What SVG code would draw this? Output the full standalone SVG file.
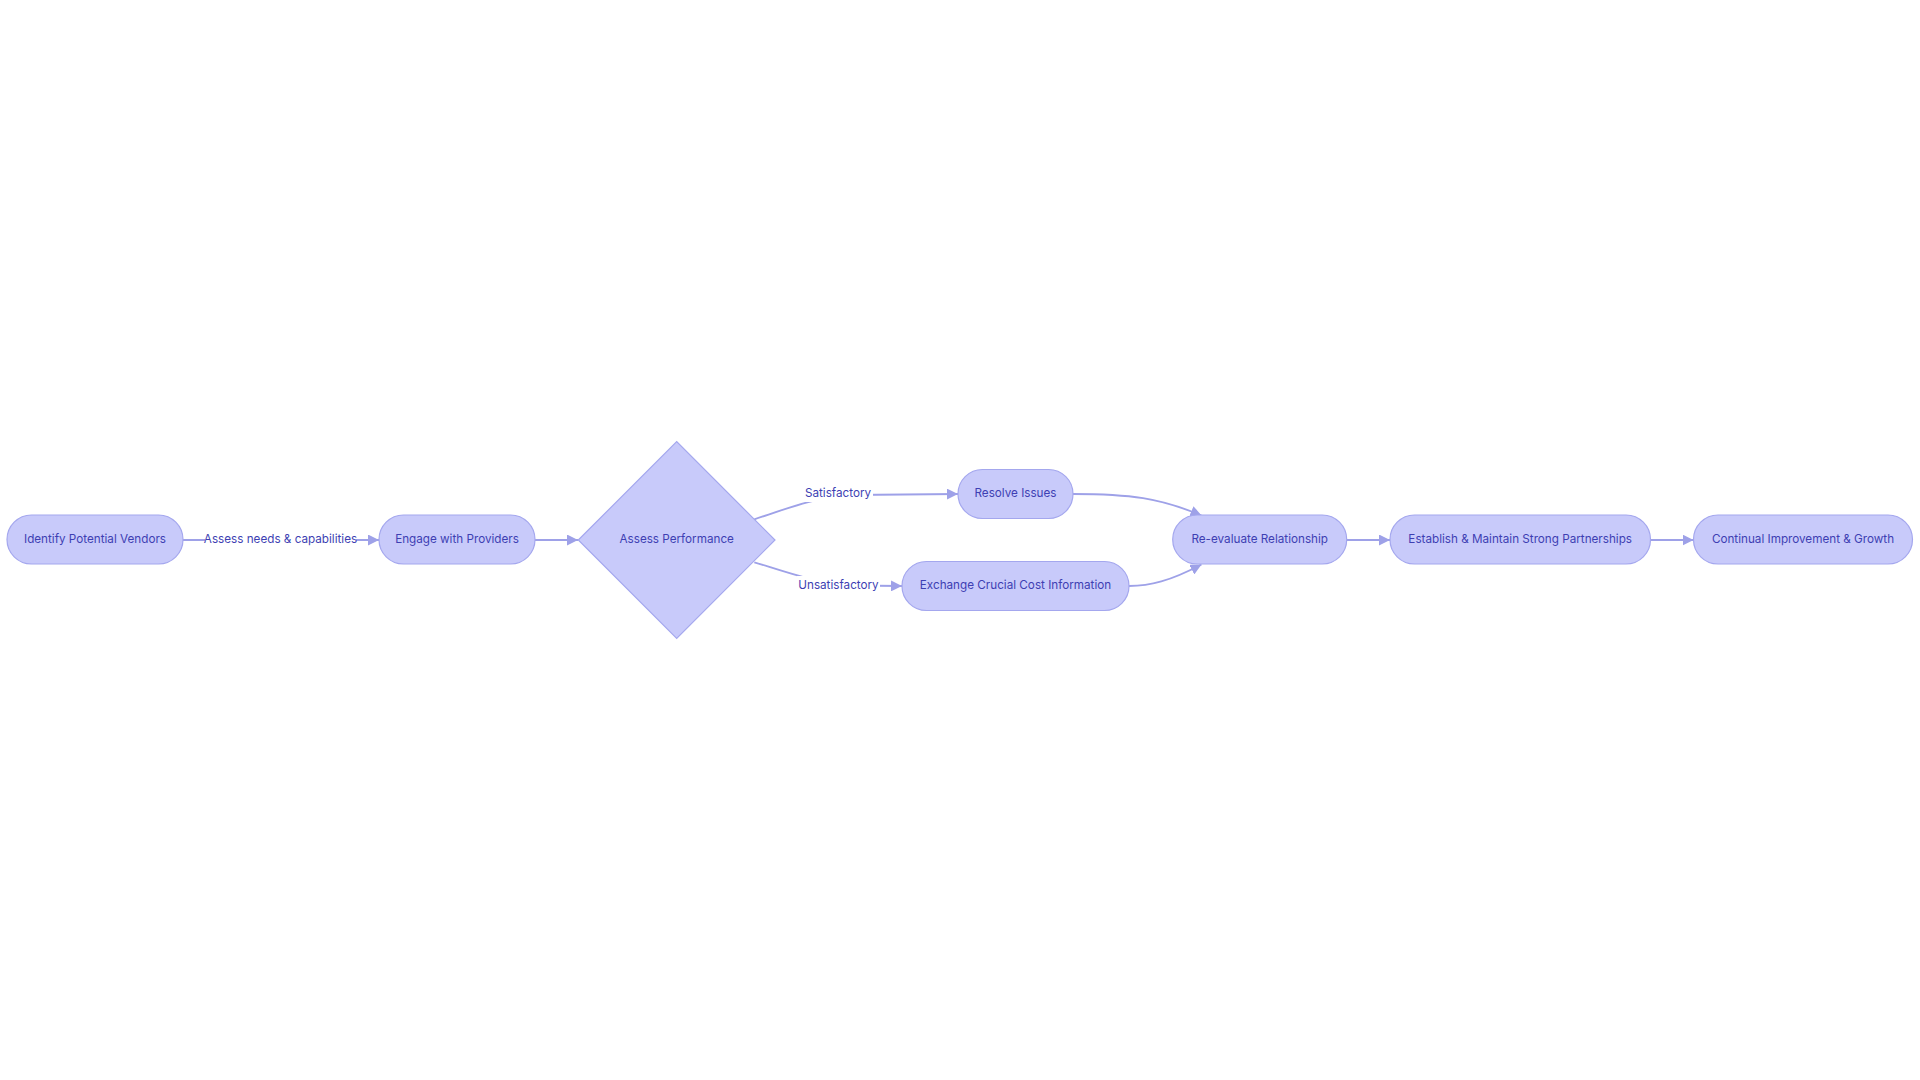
<svg xmlns="http://www.w3.org/2000/svg" width="1920" height="1080" viewBox="0 0 1920 1080">
<style>
.node rect, .node polygon { fill: #C8CAFA; stroke: #A4A7EE; stroke-width: 1.2; }
.node text, .elabel text { font-family: Inter, "Liberation Sans", sans-serif; font-size: 11.7px; fill: #3E3FB3; text-anchor: middle; dominant-baseline: central; }
.edge { fill: none; stroke: #9EA1E8; stroke-width: 1.8; }
.elabel rect { fill: #FFFFFF; }
</style>
<defs>
<marker id="arrow" viewBox="0 0 10 10" refX="10" refY="5" markerWidth="11" markerHeight="11" markerUnits="userSpaceOnUse" orient="auto">
<path d="M0,0 L10,5 L0,10 z" fill="#9EA1E8"/>
</marker>
</defs>
<rect width="1920" height="1080" fill="#FFFFFF"/>
<g id="connectors">
<path class="edge" d="M183,540 L379,540" marker-end="url(#arrow)"/>
<path class="edge" d="M535,540 L578,540" marker-end="url(#arrow)"/>
<path class="edge" d="M754.3,519.3 C780,511 815,497 850,495 L958,494" marker-end="url(#arrow)"/>
<path class="edge" d="M754.3,562.3 C780,570 815,583 850,585.5 L902,586" marker-end="url(#arrow)"/>
<path class="edge" d="M1073,494 C1130,494 1160,498 1201.5,515.5" marker-end="url(#arrow)"/>
<path class="edge" d="M1129,586 C1150,586 1170,581 1201.5,564.5" marker-end="url(#arrow)"/>
<path class="edge" d="M1346.5,540 L1390,540" marker-end="url(#arrow)"/>
<path class="edge" d="M1650.5,540 L1693.5,540" marker-end="url(#arrow)"/>
<g class="elabel" id="label-assess">
<rect x="205" y="530" width="151" height="18"/>
<text x="280.5" y="539">Assess needs &amp; capabilities</text>
</g>
<g class="elabel" id="label-satisfactory">
<rect x="803" y="484" width="70" height="18"/>
<text x="838" y="493">Satisfactory</text>
</g>
<g class="elabel" id="label-unsatisfactory">
<rect x="797" y="576" width="83" height="18"/>
<text x="838.5" y="585">Unsatisfactory</text>
</g>
</g>
<g id="n1" class="node">
<rect x="7" y="515" width="176" height="49" rx="24.5"/>
<text x="95" y="539">Identify Potential Vendors</text>
</g>
<g id="n2" class="node">
<rect x="379" y="515" width="156" height="49" rx="24.5"/>
<text x="457" y="539">Engage with Providers</text>
</g>
<g id="n3" class="node">
<polygon points="578.3,540 676.7,441.7 775,540 676.7,638.3"/>
<text x="676.7" y="539">Assess Performance</text>
</g>
<g id="n4" class="node">
<rect x="958" y="469.5" width="115" height="49" rx="24.5"/>
<text x="1015.5" y="493">Resolve Issues</text>
</g>
<g id="n5" class="node">
<rect x="902" y="561.5" width="227" height="49" rx="24.5"/>
<text x="1015.5" y="585">Exchange Crucial Cost Information</text>
</g>
<g id="n6" class="node">
<rect x="1172.7" y="515" width="174" height="49" rx="24.5"/>
<text x="1259.7" y="539">Re-evaluate Relationship</text>
</g>
<g id="n7" class="node">
<rect x="1390" y="515" width="260.5" height="49" rx="24.5"/>
<text x="1520.2" y="539">Establish &amp; Maintain Strong Partnerships</text>
</g>
<g id="n8" class="node">
<rect x="1693.5" y="515" width="219" height="49" rx="24.5"/>
<text x="1803" y="539">Continual Improvement &amp; Growth</text>
</g>
</svg>
